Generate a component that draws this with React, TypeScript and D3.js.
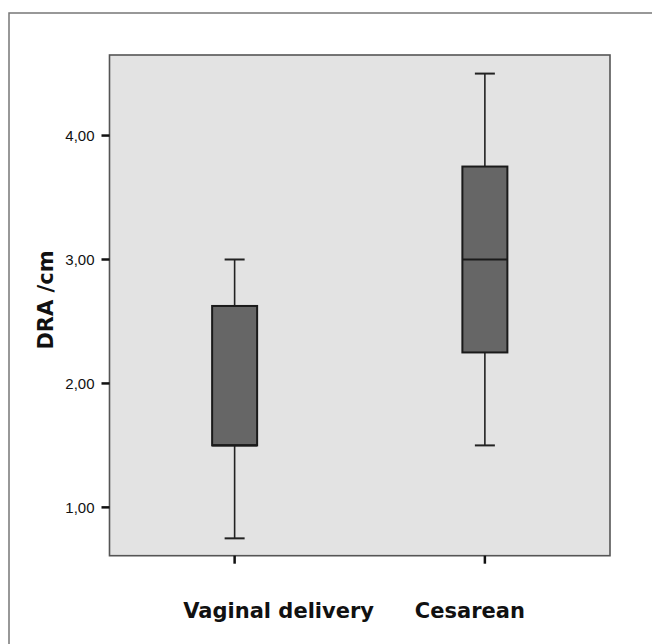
import React from "react";
import * as d3 from "d3";

const categories = ["Vaginal delivery", "Cesarean"];
const whiskerLow = [0.75, 1.5];
const q1Values = [1.5, 2.25];
const medianValues = [1.5, 3.0];
const q3Values = [2.625, 3.75];
const whiskerHigh = [3.0, 4.5];
const yTicks = [1, 2, 3, 4];
const yTickLabels = ["1,00", "2,00", "3,00", "4,00"];
const yAxisTitle = "DRA /cm";

const W = 652;
const H = 644;
const plot = { left: 109.5, right: 610, top: 55, bottom: 555.7 };
const labelOffsets = [44, -15];

export default function App() {
  const x = d3
    .scalePoint<string>()
    .domain(categories)
    .range([plot.left, plot.right])
    .padding(0.5);
  const y = d3.scaleLinear().domain([0.61, 4.65]).range([plot.bottom, plot.top]);
  const boxW = 45;
  const capW = 20;

  return (
    <svg
      width={W}
      height={H}
      style={{ position: "absolute", left: 0, top: 0, background: "#fff" }}
    >
      <rect x={9} y={13} width={W + 20} height={H + 20} fill="#fff" stroke="#777" strokeWidth={1.5} />
      <rect
        x={plot.left}
        y={plot.top}
        width={plot.right - plot.left}
        height={plot.bottom - plot.top}
        fill="#e3e3e3"
        stroke="#555"
        strokeWidth={1.6}
      />
      {yTicks.map((t, i) => (
        <g key={t}>
          <line x1={plot.left - 8} x2={plot.left} y1={y(t)} y2={y(t)} stroke="#111" strokeWidth={2.5} />
          <text
            x={plot.left - 15}
            y={y(t)}
            dy="0.35em"
            textAnchor="end"
            fontFamily="'Liberation Sans', Arial, sans-serif"
            fontSize={15}
            fill="#111"
          >
            {yTickLabels[i]}
          </text>
        </g>
      ))}
      {categories.map((c, i) => {
        const cx = x(c) as number;
        return (
          <g key={c}>
            <line x1={cx} x2={cx} y1={plot.bottom} y2={plot.bottom + 8} stroke="#111" strokeWidth={2.5} />
            <line x1={cx} x2={cx} y1={y(whiskerHigh[i])} y2={y(q3Values[i])} stroke="#222" strokeWidth={1.6} />
            <line x1={cx} x2={cx} y1={y(q1Values[i])} y2={y(whiskerLow[i])} stroke="#222" strokeWidth={1.6} />
            <line
              x1={cx - capW / 2}
              x2={cx + capW / 2}
              y1={y(whiskerHigh[i])}
              y2={y(whiskerHigh[i])}
              stroke="#222"
              strokeWidth={2}
            />
            <line
              x1={cx - capW / 2}
              x2={cx + capW / 2}
              y1={y(whiskerLow[i])}
              y2={y(whiskerLow[i])}
              stroke="#222"
              strokeWidth={2}
            />
            <rect
              x={cx - boxW / 2}
              y={y(q3Values[i])}
              width={boxW}
              height={y(q1Values[i]) - y(q3Values[i])}
              fill="#666"
              stroke="#1a1a1a"
              strokeWidth={2}
            />
            <line
              x1={cx - boxW / 2}
              x2={cx + boxW / 2}
              y1={y(medianValues[i])}
              y2={y(medianValues[i])}
              stroke="#1a1a1a"
              strokeWidth={2.2}
            />
            <text
              x={cx + labelOffsets[i]}
              y={618}
              textAnchor="middle"
              fontFamily="'DejaVu Sans', sans-serif"
              fontWeight="bold"
              fontSize={21}
              fill="#111"
            >
              {c}
            </text>
          </g>
        );
      })}
      <text
        transform={`translate(53, 300) rotate(-90)`}
        textAnchor="middle"
        fontFamily="'DejaVu Sans', sans-serif"
        fontWeight="bold"
        fontSize={21}
        fill="#111"
      >
        {yAxisTitle}
      </text>
    </svg>
  );
}
